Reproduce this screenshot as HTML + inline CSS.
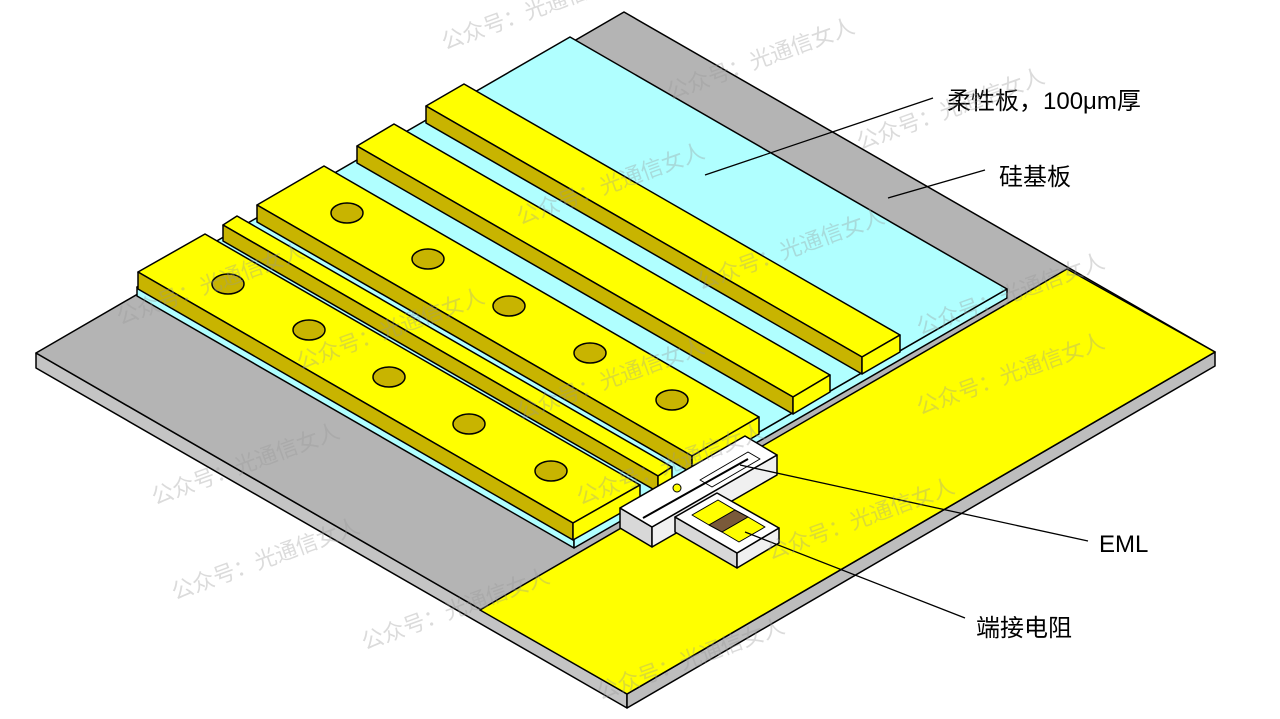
<!DOCTYPE html>
<html><head><meta charset="utf-8"><style>
html,body{margin:0;padding:0;background:#fff;width:1280px;height:719px;overflow:hidden}
svg{display:block}
text{font-family:"Liberation Sans","Noto Sans CJK SC",sans-serif}
</style></head><body>
<svg width="1280" height="719" viewBox="0 0 1280 719" xmlns="http://www.w3.org/2000/svg" stroke-linejoin="round">
<g stroke="#000" stroke-width="1.5">
<polygon points="36,353 627,694 627,708 36,368" fill="#c4c4c4"/>
<polygon points="627,694 1215,352 1215,366 627,708" fill="#bdbdbd"/>
<polygon points="36,353 624,12 1215,352 627,694" fill="#b4b4b4"/>
<polygon points="1067,269 1215,352 627,694 480,610" fill="#ffff00"/>
<polygon points="137,287 574,539 574,548 137,296" fill="#b0ffff"/>
<polygon points="574,539 1007,289 1007,298 574,548" fill="#b0ffff"/>
<polygon points="137,287 570,37 1007,289 574,539" fill="#b0ffff"/>
</g>
<g stroke="#000" stroke-width="1.5">
<polygon points="426,106 464,84 900,335 862,357" fill="#ffff00"/>
<polygon points="426,106 862,357 862,374 426,123" fill="#c8b400"/>
<polygon points="862,357 900,335 900,352 862,374" fill="#ffff00"/>
<polygon points="357,146 394,124 830,375 793,397" fill="#ffff00"/>
<polygon points="357,146 793,397 793,414 357,163" fill="#c8b400"/>
<polygon points="793,397 830,375 830,392 793,414" fill="#ffff00"/>
<polygon points="257,205 324,166 759,417 692,456" fill="#ffff00"/>
<polygon points="257,205 692,456 692,473 257,222" fill="#c8b400"/>
<polygon points="692,456 759,417 759,434 692,473" fill="#ffff00"/>
<polygon points="223,225 237,216 672,467 658,476" fill="#ffff00"/>
<polygon points="223,225 658,476 658,492 223,241" fill="#c8b400"/>
<polygon points="658,476 672,467 672,483 658,492" fill="#ffff00"/>
<polygon points="138,272 205,234 640,485 573,523" fill="#ffff00"/>
<polygon points="138,272 573,523 573,540 138,289" fill="#c8b400"/>
<polygon points="573,523 640,485 640,502 573,540" fill="#ffff00"/>
</g>
<g stroke="#000" stroke-width="1.5" fill="#c8b400">
<ellipse cx="347" cy="213" rx="16" ry="10"/>
<ellipse cx="428" cy="259" rx="16" ry="10"/>
<ellipse cx="509" cy="306" rx="16" ry="10"/>
<ellipse cx="590" cy="353" rx="16" ry="10"/>
<ellipse cx="672" cy="400" rx="16" ry="10"/>
<ellipse cx="228" cy="284" rx="16" ry="10"/>
<ellipse cx="309" cy="330" rx="16" ry="10"/>
<ellipse cx="389" cy="377" rx="16" ry="10"/>
<ellipse cx="469" cy="424" rx="16" ry="10"/>
<ellipse cx="551" cy="471" rx="16" ry="10"/>
</g>
<g stroke="#000" stroke-width="1.5">
<polygon points="620,508 652,527 652,547 620,528" fill="#d8d8d8"/>
<polygon points="652,527 777,455 777,475 652,547" fill="#f0f0f0"/>
<polygon points="620,508 745,436 777,455 652,527" fill="#fff"/>
<polygon points="700,480 748,452 760,459 712,487" fill="none" stroke-width="1"/>
<line x1="643" y1="518" x2="748" y2="459" stroke-width="2"/>
<circle cx="677" cy="488" r="4" fill="#ffff00" stroke-width="1"/>
<polygon points="675,517 737,553 737,568 675,532" fill="#d8d8d8"/>
<polygon points="737,553 779,528 779,543 737,568" fill="#f0f0f0"/>
<polygon points="675,517 717,493 779,528 737,553" fill="#fff"/>
<polygon points="692,515 718,500 735,510 709,525" fill="#ffff00" stroke-width="1"/>
<polygon points="709,525 735,510 748,517 722,532" fill="#7a5a3a" stroke-width="1"/>
<polygon points="722,532 748,517 765,527 739,542" fill="#ffff00" stroke-width="1"/>
</g>
<g stroke="#000" stroke-width="1.3">
<line x1="933" y1="98" x2="705" y2="175"/>
<line x1="985" y1="170" x2="888" y2="198"/>
<line x1="1088" y1="541" x2="740" y2="465"/>
<line x1="965" y1="618" x2="745" y2="532"/>
</g>
<g fill="#000" font-size="24">
<text x="947" y="109">柔性板，100μm厚</text>
<text x="999" y="185">硅基板</text>
<text x="1099" y="552">EML</text>
<text x="976" y="636">端接电阻</text>
</g>
<g fill="#999" fill-opacity="0.35" font-size="22" font-family="'Noto Serif CJK SC',serif">
<text transform="translate(445,50) rotate(-20)">公众号：光通信女人</text>
<text transform="translate(670,100) rotate(-20)">公众号：光通信女人</text>
<text transform="translate(520,225) rotate(-20)">公众号：光通信女人</text>
<text transform="translate(860,150) rotate(-20)">公众号：光通信女人</text>
<text transform="translate(120,325) rotate(-20)">公众号：光通信女人</text>
<text transform="translate(300,370) rotate(-20)">公众号：光通信女人</text>
<text transform="translate(700,290) rotate(-20)">公众号：光通信女人</text>
<text transform="translate(920,335) rotate(-20)">公众号：光通信女人</text>
<text transform="translate(520,420) rotate(-20)">公众号：光通信女人</text>
<text transform="translate(155,505) rotate(-20)">公众号：光通信女人</text>
<text transform="translate(580,505) rotate(-20)">公众号：光通信女人</text>
<text transform="translate(920,415) rotate(-20)">公众号：光通信女人</text>
<text transform="translate(175,600) rotate(-20)">公众号：光通信女人</text>
<text transform="translate(770,560) rotate(-20)">公众号：光通信女人</text>
<text transform="translate(365,650) rotate(-20)">公众号：光通信女人</text>
<text transform="translate(600,700) rotate(-20)">公众号：光通信女人</text>
</g>
</svg>
</body></html>
